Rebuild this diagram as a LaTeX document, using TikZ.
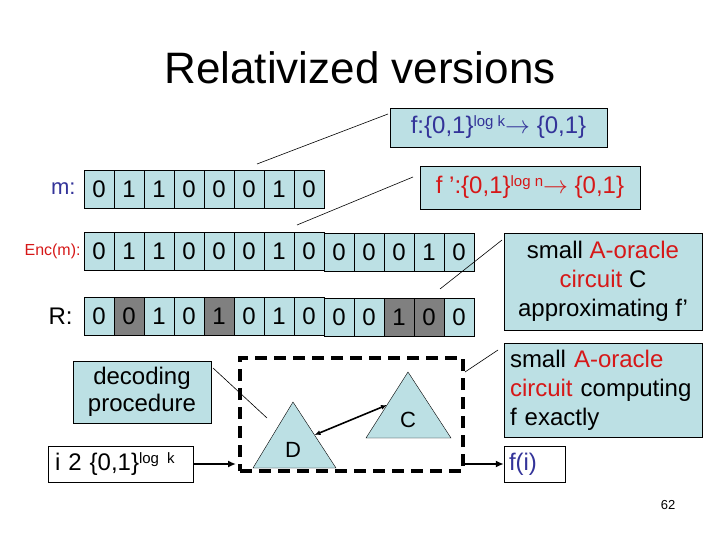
\documentclass[tikz,border=0pt]{standalone}
\usepackage{fontspec}
\setmainfont{Liberation Sans}
\usepackage{xcolor}
\usetikzlibrary{calc}
\usetikzlibrary{positioning}
\usetikzlibrary{arrows.meta}
\definecolor{cellblue}{RGB}{188,224,228}
\definecolor{shade}{RGB}{128,128,128}
\definecolor{navy}{RGB}{51,51,153}
\definecolor{oracle}{RGB}{214,24,24}
\newcommand{\logsup}[1]{\raisebox{0.55ex}{\fontsize{15}{15}\selectfont #1}}
\tikzset{
	cell/.style={draw,fill=cellblue,minimum width=30pt,minimum height=38pt,inner sep=0pt,
		font=\fontsize{24}{29}\selectfont},
	textbox/.style={draw,fill=cellblue,inner sep=0pt,font=\fontsize{24}{29}\selectfont},
	whitebox/.style={draw,fill=white,inner sep=0pt,font=\fontsize{24}{29}\selectfont},
	callout/.style={line width=0.6pt},
	feed/.style={line width=2pt,-{Latex[length=8pt,width=7pt]}}
}

\begin{document}
\begin{tikzpicture}[x=1pt,y=-1pt]
	\useasboundingbox (0,0) rectangle (720,540);
	\node[font=\fontsize{44}{50}\selectfont] (title) at (360,68) {Relativized versions};
	%%%%%%%%%%%%%%%
	\foreach \d [count=\i] in {0,1,1,0,0,0,1,0}
		\node[cell] (m\i) at (69+30*\i,189) {\d};
	\foreach \d [count=\i] in {0,1,1,0,0,0,1,0,0,0,0,1,0}{
		\pgfmathsetmacro\dy{\i>8 ? 1 : 0}
		\node[cell] (e\i) at (69+30*\i,251+\dy) {\d};
	}
	\foreach \d/\c [count=\i] in {0/cellblue,0/shade,1/cellblue,0/cellblue,1/shade,0/cellblue,1/cellblue,
		0/cellblue,0/cellblue,0/cellblue,1/shade,0/shade,0/cellblue}{
		\pgfmathsetmacro\dy{\i>8 ? 1 : 0}
		\node[cell,fill=\c] (r\i) at (69+30*\i,316+\dy) {\d};
	}
	\node[inner sep=0pt,text=navy,font=\fontsize{22}{22}\selectfont,left=8pt of m1] (mlabel) {m:};
	\node[inner sep=0pt,text=oracle,font=\fontsize{16}{16}\selectfont,left=3pt of e1] (elabel) {Enc(m):};
	\node[inner sep=0pt,font=\fontsize{24}{24}\selectfont,left=11pt of r1] (rlabel) {R:};
	%%%%%%%%%%%%%%%
	\node[textbox,text=navy,minimum width=217pt,minimum height=39pt] (fbox) at (498.5,127.5)
		{f:\{0,1\}\logsup{log k}$\rightarrow$ \{0,1\}};
	\node[textbox,text=oracle,minimum width=220pt,minimum height=43pt] (fpbox) at (530,187.5)
		{f ':\{0,1\}\logsup{log n}$\rightarrow$ \{0,1\}};
	\node[textbox,align=center,minimum width=198pt,minimum height=97pt] (approx) at (603,281.5)
		{small \textcolor{oracle}{A-oracle}\\\textcolor{oracle}{circuit} C\\approximating f'};
	\node[textbox,align=left,text width=186pt,inner xsep=6pt,minimum height=94pt] (exact) at (603,390)
		{small \textcolor{oracle}{A-oracle}\\\textcolor{oracle}{circuit} computing\\f exactly};
	\node[textbox,align=center,minimum width=138pt,minimum height=62pt,
		font=\fontsize{24}{27}\selectfont] (decode) at (142,392) {decoding\\procedure};
	\node[whitebox,align=left,text width=131pt,inner xsep=7pt,minimum height=36pt] (ibox) at (120.5,464)
		{i 2 \{0,1\}\logsup{log k}};
	\node[whitebox,text=navy,align=left,text width=51pt,inner xsep=5pt,minimum height=36pt] (fibox) at (534.5,464)
		{f(i)};
	%%%%%%%%%%%%%%%
	\node[draw,line width=4pt,dash pattern=on 12pt off 7pt,minimum width=223pt,minimum height=113pt]
		(dbox) at (351.5,414.5) {};
	\coordinate (Dtop) at (293,402);
	\coordinate (Dleft) at (253,468);
	\coordinate (Dright) at (336,468);
	\coordinate (Ctop) at (408,372);
	\coordinate (Cleft) at (366,438);
	\coordinate (Cright) at (451,438);
	\draw[fill=cellblue] (Dtop) -- (Dleft) -- (Dright) -- cycle;
	\draw[fill=cellblue] (Ctop) -- (Cleft) -- (Cright) -- cycle;
	\node[font=\fontsize{22}{22}\selectfont] (dname) at (293,450) {D};
	\node[font=\fontsize{22}{22}\selectfont] (cname) at (408,420) {C};
	\coordinate (Dside) at ($(Dtop)!0.5!(Dright)$);
	\coordinate (Cside) at ($(Ctop)!0.5!(Cleft)$);
	\draw[line width=1.6pt,{Latex[length=6pt,width=5pt]}-{Latex[length=6pt,width=5pt]}] (Dside) -- (Cside);
	\draw[feed,shorten >=2pt] (ibox.east) -- (ibox.east -| dbox.west);
	\draw[feed] (fibox.west -| dbox.east) -- (fibox.west);
	%%%%%%%%%%%%%%%
	\coordinate (c1a) at (257,164); \coordinate (c1b) at (388,114);
	\coordinate (c2a) at (297,225); \coordinate (c2b) at (413,177);
	\coordinate (c3a) at (440,289); \coordinate (c3b) at (502,240);
	\coordinate (c4a) at (213,368); \coordinate (c4b) at (267,418);
	\coordinate (c5a) at (465,372); \coordinate (c5b) at (498,350);
	\draw[callout] (c1a) -- (c1b);
	\draw[callout] (c2a) -- (c2b);
	\draw[callout] (c3a) -- (c3b);
	\draw[callout] (c4a) -- (c4b);
	\draw[callout] (c5a) -- (c5b);
	\node[font=\fontsize{13}{13}\selectfont] (pagenum) at (668,505) {62};
\end{tikzpicture}
\end{document}
